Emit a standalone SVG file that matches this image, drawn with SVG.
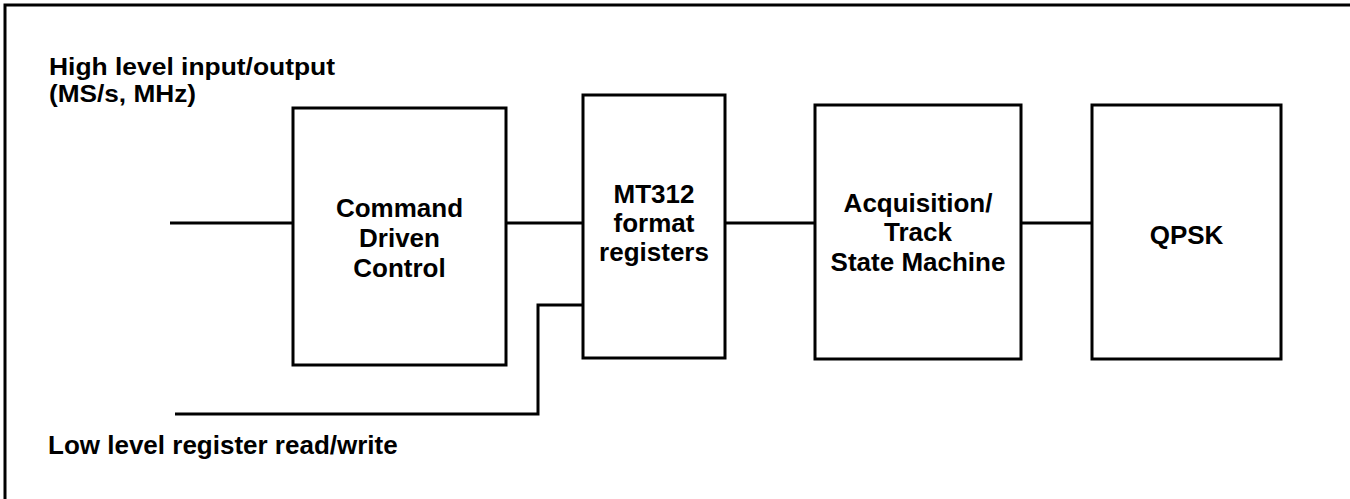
<svg xmlns="http://www.w3.org/2000/svg" width="1350" height="499" viewBox="0 0 1350 499">
<style>
.box{fill:#fff;stroke:#000;stroke-width:3}
.ln{fill:none;stroke:#000;stroke-width:3}
text{font-family:"Liberation Sans",Arial,sans-serif;font-weight:bold;font-size:26px;fill:#000}
.c{text-anchor:middle}
.hl{font-size:24px}
</style>
<rect x="0" y="0" width="1350" height="499" fill="#fff"/>
<rect x="5" y="5" width="1360" height="520" fill="none" stroke="#000" stroke-width="3"/>
<g id="connectors">
<line class="ln" x1="170" y1="223" x2="293" y2="223"/>
<line class="ln" x1="506" y1="223" x2="583" y2="223"/>
<line class="ln" x1="725" y1="223" x2="815" y2="223"/>
<line class="ln" x1="1021" y1="223" x2="1092" y2="223"/>
<polyline class="ln" points="175,414 538,414 538,305 583,305"/>
</g>
<g id="label-high">
<text class="hl" x="49" y="75" textLength="286" lengthAdjust="spacingAndGlyphs">High level input/output</text>
<text class="hl" x="49" y="102" textLength="147" lengthAdjust="spacingAndGlyphs">(MS/s, MHz)</text>
</g>
<g id="label-low">
<text x="48" y="454">Low level register read/write</text>
</g>
<g id="cmd">
<rect class="box" x="293" y="108" width="213" height="257"/>
<text class="c"><tspan x="399.5" y="217">Command</tspan><tspan x="399.5" y="247">Driven</tspan><tspan x="399.5" y="277">Control</tspan></text>
</g>
<g id="mt312">
<rect class="box" x="583" y="95" width="142" height="263"/>
<text class="c"><tspan x="654" y="203">MT312</tspan><tspan x="654" y="232">format</tspan><tspan x="654" y="261">registers</tspan></text>
</g>
<g id="acq">
<rect class="box" x="815" y="105" width="206" height="254"/>
<text class="c"><tspan x="918" y="212">Acquisition/</tspan><tspan x="918" y="241">Track</tspan><tspan x="918" y="271">State Machine</tspan></text>
</g>
<g id="qpsk">
<rect class="box" x="1092" y="105" width="189" height="254"/>
<text class="c" x="1186.5" y="244">QPSK</text>
</g>
</svg>
